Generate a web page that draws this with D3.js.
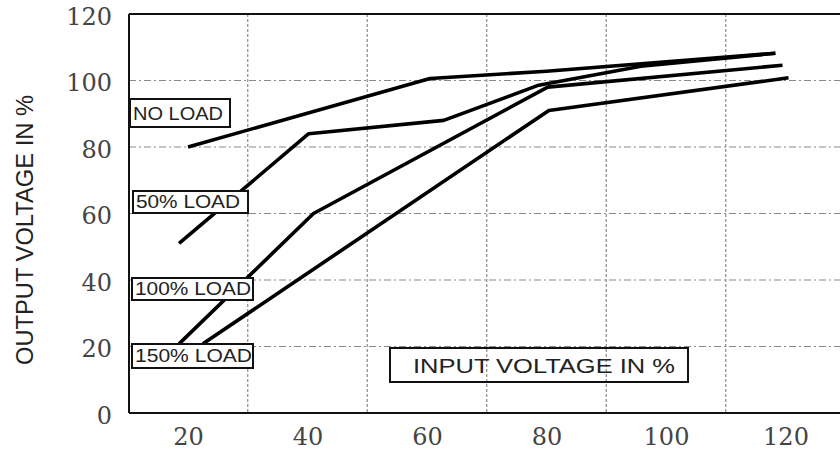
<!DOCTYPE html>
<html>
<head>
<meta charset="utf-8">
<script src="https://cdn.jsdelivr.net/npm/d3@7"></script>
<style>
  body { margin: 0; background: #fff; }
</style>
</head>
<body>
<script>
var w = 840;
var h = 454;

// data (input % -> output %)
var seriesNames = ["NO LOAD", "50% LOAD", "100% LOAD", "150% LOAD"];
var noLoadIn = [20, 60.5, 80, 118.3];
var noLoadOut = [80, 100.6, 102.8, 108.2];
var load50In = [18.5, 40.2, 62.8, 78.7, 95.8, 118.3];
var load50Out = [51, 84, 88, 98.6, 104.3, 108.2];
var load100In = [18.5, 41, 80.2, 119.5];
var load100Out = [20.8, 60, 98, 104.6];
var load150In = [22.5, 80.4, 120.5];
var load150Out = [20.8, 91, 100.8];

var xTicks = [20, 40, 60, 80, 100, 120];
var yTicks = [0, 20, 40, 60, 80, 100, 120];
var xGrid = [30, 50, 70, 90, 110];
var yGrid = [20, 40, 60, 80, 100];

var plotLeft = 129, plotTop = 14, plotBottom = 413, plotRight = 840;

var x = d3.scaleLinear().domain([20, 120]).range([188, 785.5]);
var y = d3.scaleLinear().domain([0, 120]).range([plotBottom, plotTop]);

var svg = d3.select("body")
            .append("svg")
                .attr("width", w)
                .attr("height", h);

// grid
svg.selectAll("line.hgrid")
    .data(yGrid)
    .enter()
    .append("line")
        .attr("class", "hgrid")
        .attr("x1", plotLeft)
        .attr("x2", plotRight)
        .attr("y1", function(d) {return y(d);})
        .attr("y2", function(d) {return y(d);})
        .attr("stroke", "#8a8a8a")
        .attr("stroke-width", 1.2)
        .attr("stroke-dasharray", "7,3,2,3");

svg.selectAll("line.vgrid")
    .data(xGrid)
    .enter()
    .append("line")
        .attr("class", "vgrid")
        .attr("x1", function(d) {return x(d);})
        .attr("x2", function(d) {return x(d);})
        .attr("y1", plotTop)
        .attr("y2", plotBottom)
        .attr("stroke", "#8a8a8a")
        .attr("stroke-width", 1.2)
        .attr("stroke-dasharray", "3,2");

// frame
var frame = [[plotLeft, plotTop, plotRight, plotTop],
             [plotLeft, plotBottom, plotRight, plotBottom],
             [plotLeft, plotTop, plotLeft, plotBottom]];
svg.selectAll("line.frame")
    .data(frame)
    .enter()
    .append("line")
        .attr("x1", function(d) {return d[0];})
        .attr("y1", function(d) {return d[1];})
        .attr("x2", function(d) {return d[2];})
        .attr("y2", function(d) {return d[3];})
        .attr("stroke", "#111")
        .attr("stroke-width", 2);

// axes (labels only)
var yAxis = svg.append("g")
    .attr("transform", "translate(" + plotLeft + ",0)")
    .call(d3.axisLeft(y).tickValues(yTicks).tickSize(0).tickPadding(17));
var xAxis = svg.append("g")
    .attr("transform", "translate(0," + plotBottom + ")")
    .call(d3.axisBottom(x).tickValues(xTicks).tickSize(0).tickPadding(15));
[yAxis, xAxis].forEach(function(g) {
    g.select(".domain").remove();
    g.selectAll("text")
        .attr("font-family", "DejaVu Serif, serif")
        .attr("font-size", 24)
        .attr("fill", "#444");
});
yAxis.selectAll("text").attr("dy", "0.42em");

// curves
var curves = [d3.zip(noLoadIn, noLoadOut),
              d3.zip(load50In, load50Out),
              d3.zip(load100In, load100Out),
              d3.zip(load150In, load150Out)];
var line = d3.line()
    .x(function(d) {return x(d[0]);})
    .y(function(d) {return y(d[1]);});

svg.selectAll("path.curve")
    .data(curves)
    .enter()
    .append("path")
        .attr("class", "curve")
        .attr("d", line)
        .attr("fill", "none")
        .attr("stroke", "#000")
        .attr("stroke-width", 3.6)
        .attr("stroke-linejoin", "round")
        .attr("stroke-linecap", "butt");

// label boxes (layout only)
var boxes = [
    {x: 130, y: 99, w: 100, h: 28, fs: 19, tl: 90},
    {x: 133, y: 191, w: 115, h: 22, fs: 18, tl: 104},
    {x: 132, y: 278, w: 121, h: 22, fs: 18, tl: 116},
    {x: 132, y: 344, w: 121, h: 24, fs: 18, tl: 117}
];

var lab = svg.selectAll("g.lab")
    .data(seriesNames)
    .enter()
    .append("g")
        .attr("class", "lab");
lab.append("rect")
    .attr("x", function(d, i) {return boxes[i].x;})
    .attr("y", function(d, i) {return boxes[i].y;})
    .attr("width", function(d, i) {return boxes[i].w;})
    .attr("height", function(d, i) {return boxes[i].h;})
    .attr("fill", "#fff")
    .attr("stroke", "#111")
    .attr("stroke-width", 2);
lab.append("text")
    .text(function(d) {return d;})
    .attr("x", function(d, i) {return boxes[i].x + 3;})
    .attr("y", function(d, i) {return boxes[i].y + boxes[i].h / 2;})
    .attr("dy", "0.36em")
    .attr("textLength", function(d, i) {return boxes[i].tl;})
    .attr("lengthAdjust", "spacingAndGlyphs")
    .attr("font-family", "Liberation Sans, Arial, sans-serif")
    .attr("font-size", function(d, i) {return boxes[i].fs;})
    .attr("fill", "#222");

// x title in a box
svg.append("rect")
    .attr("x", 390).attr("y", 348)
    .attr("width", 298).attr("height", 34)
    .attr("fill", "none")
    .attr("stroke", "#111")
    .attr("stroke-width", 2);
svg.append("text")
    .text("INPUT VOLTAGE IN %")
    .attr("x", 413).attr("y", 365)
    .attr("dy", "0.36em")
    .attr("textLength", 262)
    .attr("lengthAdjust", "spacingAndGlyphs")
    .attr("font-family", "Liberation Sans, Arial, sans-serif")
    .attr("font-size", 21)
    .attr("fill", "#222");

// y title
svg.append("text")
    .text("OUTPUT VOLTAGE IN %")
    .attr("transform", "translate(24,230) rotate(-90)")
    .attr("text-anchor", "middle")
    .attr("dy", "0.36em")
    .attr("textLength", 270)
    .attr("lengthAdjust", "spacingAndGlyphs")
    .attr("font-family", "Liberation Sans, Arial, sans-serif")
    .attr("font-size", 24)
    .attr("fill", "#222");
</script>
</body>
</html>
